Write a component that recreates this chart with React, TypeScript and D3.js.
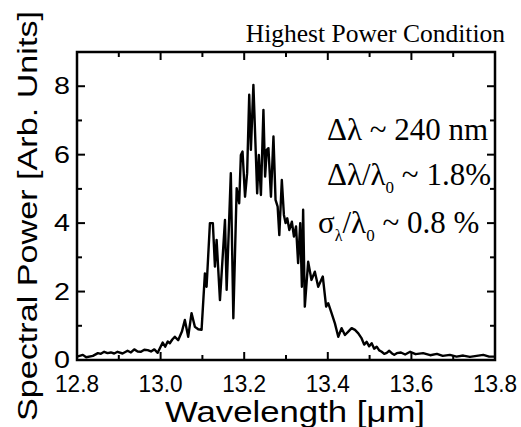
import React from "react";
import * as d3 from "d3";

const wavelength = [
  12.800, 12.814, 12.822, 12.838, 12.850, 12.857, 12.865, 12.873, 12.881, 12.889,
  12.897, 12.909, 12.921, 12.929, 12.937, 12.945, 12.953, 12.961, 12.969, 12.977,
  12.985, 12.993, 13.005, 13.011, 13.017, 13.022, 13.028, 13.034, 13.042, 13.051,
  13.058, 13.066, 13.074, 13.082, 13.090, 13.098, 13.106, 13.110, 13.118, 13.125,
  13.130, 13.134, 13.142, 13.154, 13.158, 13.168, 13.174, 13.182, 13.188, 13.192,
  13.196, 13.202, 13.207, 13.212, 13.216, 13.222, 13.228, 13.231, 13.235, 13.240,
  13.246, 13.250, 13.254, 13.258, 13.264, 13.270, 13.275, 13.280, 13.284, 13.290,
  13.295, 13.299, 13.303, 13.308, 13.314, 13.319, 13.324, 13.329, 13.334, 13.338,
  13.341, 13.345, 13.353, 13.361, 13.369, 13.377, 13.388, 13.396, 13.401, 13.409,
  13.417, 13.425, 13.433, 13.441, 13.449, 13.457, 13.465, 13.473, 13.481, 13.487,
  13.493, 13.499, 13.505, 13.511, 13.517, 13.523, 13.529, 13.535, 13.541, 13.547,
  13.553, 13.559, 13.565, 13.575, 13.585, 13.597, 13.610, 13.628, 13.645, 13.661,
  13.675, 13.692, 13.708, 13.724, 13.740, 13.756, 13.772, 13.786, 13.800,
];
const power = [
  0.10, 0.15, 0.08, 0.12, 0.20, 0.18, 0.24, 0.20, 0.22, 0.19,
  0.24, 0.19, 0.27, 0.22, 0.31, 0.25, 0.24, 0.30, 0.29, 0.25,
  0.31, 0.21, 0.51, 0.39, 0.54, 0.49, 0.60, 0.68, 0.58, 0.83,
  1.17, 0.68, 1.37, 0.97, 0.90, 0.88, 2.53, 2.14, 4.00, 4.00,
  2.73, 3.51, 1.75, 4.09, 2.05, 5.46, 1.22, 5.02, 4.58, 5.99,
  6.09, 4.77, 5.46, 7.75, 6.14, 8.04, 5.95, 4.87, 5.99, 4.82,
  7.31, 5.36, 6.14, 6.19, 4.77, 6.53, 4.68, 4.48, 3.65, 5.26,
  4.24, 4.00, 4.14, 3.80, 4.04, 3.61, 3.90, 2.83, 4.00, 2.14,
  4.39, 1.56, 2.87, 2.34, 2.58, 2.14, 2.44, 1.56, 1.66, 1.37,
  1.07, 0.68, 0.93, 0.73, 0.83, 0.93, 0.88, 0.78, 0.63, 0.45,
  0.53, 0.40, 0.49, 0.33, 0.39, 0.28, 0.24, 0.18, 0.21, 0.27,
  0.20, 0.15, 0.20, 0.22, 0.16, 0.24, 0.17, 0.20, 0.14, 0.18,
  0.12, 0.15, 0.10, 0.13, 0.09, 0.12, 0.15, 0.10, 0.10,
];

const xMajorTicks = [12.8, 13.0, 13.2, 13.4, 13.6, 13.8];
const xTickLabels = ["12.8", "13.0", "13.2", "13.4", "13.6", "13.8"];
const xMinorTicks = [12.9, 13.1, 13.3, 13.5, 13.7];
const yMajorTicks = [0, 2, 4, 6, 8];
const yTickLabels = ["0", "2", "4", "6", "8"];
const yMinorTicks = [1, 3, 5, 7, 9];

const W = 521;
const H = 427;
const L = 77, R = 495, T = 52, B = 360;
const SANS = "'Liberation Sans', Arial, sans-serif";
const SERIF = "'Liberation Serif', 'Times New Roman', serif";

export default function App() {
  const x = d3.scaleLinear().domain([12.8, 13.8]).range([L, R]);
  const y = d3.scaleLinear().domain([0, 9]).range([B, T]);
  const pts = wavelength.map((w, i) => [w, power[i]] as [number, number]);
  const line = d3.line<[number, number]>().x((d) => x(d[0])).y((d) => y(d[1]));
  const MAJ = 8, MIN = 5;

  return (
    <svg width={W} height={H} style={{ position: "absolute", left: 0, top: 0, background: "#fff" }}>
      <rect x={0} y={0} width={W} height={H} fill="#fff" />
      <path d={line(pts) || ""} fill="none" stroke="#000" strokeWidth={2.4} strokeLinejoin="round" />
      {/* frame */}
      <rect x={L} y={T} width={R - L} height={B - T} fill="none" stroke="#000" strokeWidth={2.5} />
      {/* x ticks */}
      {xMajorTicks.map((t) => (
        <g key={"xm" + t}>
          <line x1={x(t)} x2={x(t)} y1={B} y2={B - MAJ} stroke="#000" strokeWidth={2} />
          <line x1={x(t)} x2={x(t)} y1={T} y2={T + MAJ} stroke="#000" strokeWidth={2} />
        </g>
      ))}
      {xMinorTicks.map((t) => (
        <g key={"xn" + t}>
          <line x1={x(t)} x2={x(t)} y1={B} y2={B - MIN} stroke="#000" strokeWidth={2} />
          <line x1={x(t)} x2={x(t)} y1={T} y2={T + MIN} stroke="#000" strokeWidth={2} />
        </g>
      ))}
      {yMajorTicks.map((t) => (
        <g key={"ym" + t}>
          <line x1={L} x2={L + MAJ} y1={y(t)} y2={y(t)} stroke="#000" strokeWidth={2} />
          <line x1={R} x2={R - MAJ} y1={y(t)} y2={y(t)} stroke="#000" strokeWidth={2} />
        </g>
      ))}
      {yMinorTicks.map((t) => (
        <g key={"yn" + t}>
          <line x1={L} x2={L + MIN} y1={y(t)} y2={y(t)} stroke="#000" strokeWidth={2} />
          <line x1={R} x2={R - MIN} y1={y(t)} y2={y(t)} stroke="#000" strokeWidth={2} />
        </g>
      ))}
      {/* tick labels */}
      {xMajorTicks.map((t, i) => (
        <text key={"xl" + t} x={x(t)} y={392} textAnchor="middle" fontFamily={SANS} fontSize={24}
          textLength={44} lengthAdjust="spacingAndGlyphs">{xTickLabels[i]}</text>
      ))}
      {yMajorTicks.map((t, i) => (
        <text key={"yl" + t} x={70} y={y(t) + 8} textAnchor="end" fontFamily={SANS} fontSize={24}
          textLength={16} lengthAdjust="spacingAndGlyphs">{yTickLabels[i]}</text>
      ))}
      {/* axis titles */}
      <text x={(L + R) / 2 + 9} y={422} textAnchor="middle" fontFamily={SANS} fontSize={29}
        textLength={260} lengthAdjust="spacingAndGlyphs">Wavelength [μm]</text>
      <text transform={`translate(37,${216}) rotate(-90)`} textAnchor="middle" fontFamily={SANS} fontSize={27}
        textLength={410} lengthAdjust="spacingAndGlyphs">Spectral Power [Arb. Units]</text>
      {/* title */}
      <text x={505} y={42} textAnchor="end" fontFamily={SERIF} fontSize={25.5}>Highest Power Condition</text>
      {/* annotations */}
      <text x={327} y={140} fontFamily={SERIF} fontSize={31}>Δλ ~ 240 nm</text>
      <text x={327} y={185} fontFamily={SERIF} fontSize={31}>
        Δλ/λ<tspan fontSize={17} dy={8}>0</tspan><tspan dy={-8}> ~ 1.8%</tspan>
      </text>
      <text x={318} y={233} fontFamily={SERIF} fontSize={31}>
        σ<tspan fontSize={16} dy={8}>λ</tspan><tspan dy={-8}>/λ</tspan><tspan fontSize={17} dy={8}>0</tspan><tspan dy={-8}> ~ 0.8 %</tspan>
      </text>
    </svg>
  );
}
